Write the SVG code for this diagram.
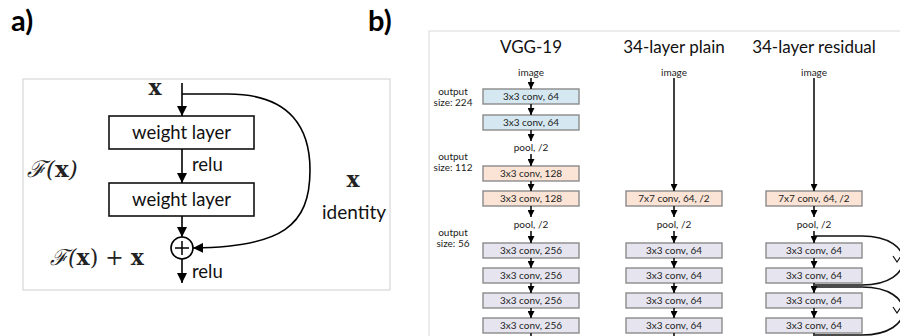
<svg xmlns="http://www.w3.org/2000/svg" width="900" height="336" viewBox="0 0 900 336">
<defs>
<marker id="ah" viewBox="0 0 10 10" refX="10" refY="5" markerWidth="10" markerHeight="10" markerUnits="userSpaceOnUse" orient="auto">
<path d="M0,0 L10,5 L0,10 Z" fill="#000"/>
</marker>
<marker id="ahs" viewBox="0 0 10 10" refX="10" refY="5" markerWidth="7" markerHeight="7" markerUnits="userSpaceOnUse" orient="auto">
<path d="M0,0 L10,5 L0,10 Z" fill="#000"/>
</marker>
</defs>
<style>
.lbl{font-family:Lato,"Open Sans","Liberation Sans",sans-serif;font-weight:bold;font-size:29px;fill:#000}
.sans{font-family:Lato,"Open Sans","Liberation Sans",sans-serif;fill:#111}
.math{font-family:"DejaVu Serif","Liberation Serif",serif;fill:#222}
.wl{fill:#fff;stroke:#111;stroke-width:1.6}
.a{fill:none;stroke:#000;stroke-width:1.6;marker-end:url(#ah)}
.s{fill:none;stroke:#111;stroke-width:1.6;marker-end:url(#ahs)}
.sl{fill:none;stroke:#111;stroke-width:1.6}
.bx{stroke:#8a8a8a;stroke-width:1.4}
.blue{fill:#d5e8f1}
.peach{fill:#fbe4d5}
.lav{fill:#e6e5ef}
.bt{font-family:Lato,"Open Sans","Liberation Sans",sans-serif;font-size:10px;fill:#222;text-anchor:middle}
.tt{font-family:Lato,"Open Sans","Liberation Sans",sans-serif;font-size:17px;fill:#111;text-anchor:middle}
</style>
<rect width="900" height="336" fill="#fff"/>
<text class="lbl" x="11" y="31">a)</text>
<text class="lbl" x="368" y="31">b)</text>

<!-- Panel a -->
<g id="panel-a">
<rect x="23" y="79" width="367" height="211" fill="#fff" stroke="#cfcfcf" stroke-width="1"/>
<text class="math" x="155" y="95" font-size="22" font-weight="bold" text-anchor="middle">x</text>
<text class="math" x="27" y="177" font-size="23" font-style="italic">ℱ(<tspan font-weight="bold" font-style="normal">x</tspan>)</text>
<text class="math" x="50" y="265" font-size="22" font-style="italic">ℱ(<tspan font-weight="bold" font-style="normal">x</tspan><tspan font-style="normal">) + </tspan><tspan font-weight="bold" font-style="normal">x</tspan></text>
<text class="math" x="353" y="187" font-size="22" font-weight="bold" text-anchor="middle">x</text>
<text class="sans" x="354" y="219" font-size="19" text-anchor="middle">identity</text>
</g>
<g id="weight-layer-1">
<rect class="wl" x="109" y="116" width="145" height="33"/>
<text class="sans" x="181.5" y="138.5" font-size="18.5" text-anchor="middle">weight layer</text>
</g>
<g id="weight-layer-2">
<rect class="wl" x="109" y="183" width="145" height="33"/>
<text class="sans" x="181.5" y="205.5" font-size="18.5" text-anchor="middle">weight layer</text>
</g>
<g id="sum">
<circle cx="182" cy="248" r="11" fill="#fff" stroke="#000" stroke-width="1.6"/>
<path d="M175,248 H189 M182,241 V255" stroke="#000" stroke-width="1.5"/>
</g>
<g id="connectors-a">
<path class="a" d="M182,83 V116"/>
<path class="a" d="M182,149 V183"/>
<path class="a" d="M182,216 V237"/>
<path class="a" d="M182,259 V283"/>
<path class="a" d="M182,94 L228,94 C292,94 310,130 310,170 C310,226 282,247 193,248"/>
<text class="sans" x="192" y="171" font-size="18.5">relu</text>
<text class="sans" x="192" y="278" font-size="18.5">relu</text>
</g>

<!-- Panel b -->
<g id="panel-b">
<rect x="429" y="31" width="490" height="330" fill="#fff" stroke="#d9d9d9" stroke-width="1"/>
<text class="tt" x="531" y="53">VGG-19</text>
<text class="tt" x="674" y="53">34-layer plain</text>
<text class="tt" x="814" y="53">34-layer residual</text>
<text class="bt" x="531" y="76">image</text>
<text class="bt" x="674" y="76">image</text>
<text class="bt" x="814" y="76">image</text>
<text class="bt" x="453" y="95">output</text>
<text class="bt" x="453" y="106">size: 224</text>
<text class="bt" x="453" y="160">output</text>
<text class="bt" x="453" y="171">size: 112</text>
<text class="bt" x="453" y="236">output</text>
<text class="bt" x="453" y="247">size: 56</text>
<text class="bt" x="531" y="151">pool, /2</text>
<text class="bt" x="674" y="228">pool, /2</text>
<text class="bt" x="814" y="228">pool, /2</text>
<text class="bt" x="531" y="228">pool, /2</text>
</g>

<g id="vgg-1"><rect class="bx blue" x="483" y="89" width="96" height="15"/><text class="bt" x="531" y="100">3x3 conv, 64</text></g>
<g id="vgg-2"><rect class="bx blue" x="483" y="115" width="96" height="15"/><text class="bt" x="531" y="126">3x3 conv, 64</text></g>
<g id="vgg-3"><rect class="bx peach" x="483" y="166" width="96" height="15"/><text class="bt" x="531" y="177">3x3 conv, 128</text></g>
<g id="vgg-4"><rect class="bx peach" x="483" y="191" width="96" height="15"/><text class="bt" x="531" y="202">3x3 conv, 128</text></g>
<g id="vgg-5"><rect class="bx lav" x="483" y="243" width="96" height="15"/><text class="bt" x="531" y="254">3x3 conv, 256</text></g>
<g id="vgg-6"><rect class="bx lav" x="483" y="268" width="96" height="15"/><text class="bt" x="531" y="279">3x3 conv, 256</text></g>
<g id="vgg-7"><rect class="bx lav" x="483" y="293" width="96" height="15"/><text class="bt" x="531" y="304">3x3 conv, 256</text></g>
<g id="vgg-8"><rect class="bx lav" x="483" y="318" width="96" height="15"/><text class="bt" x="531" y="329">3x3 conv, 256</text></g>

<g id="plain-1"><rect class="bx peach" x="626" y="191" width="96" height="15"/><text class="bt" x="674" y="202">7x7 conv, 64, /2</text></g>
<g id="plain-2"><rect class="bx lav" x="626" y="243" width="96" height="15"/><text class="bt" x="674" y="254">3x3 conv, 64</text></g>
<g id="plain-3"><rect class="bx lav" x="626" y="268" width="96" height="15"/><text class="bt" x="674" y="279">3x3 conv, 64</text></g>
<g id="plain-4"><rect class="bx lav" x="626" y="293" width="96" height="15"/><text class="bt" x="674" y="304">3x3 conv, 64</text></g>
<g id="plain-5"><rect class="bx lav" x="626" y="318" width="96" height="15"/><text class="bt" x="674" y="329">3x3 conv, 64</text></g>

<g id="res-1"><rect class="bx peach" x="766" y="191" width="96" height="15"/><text class="bt" x="814" y="202">7x7 conv, 64, /2</text></g>
<g id="res-2"><rect class="bx lav" x="766" y="243" width="96" height="15"/><text class="bt" x="814" y="254">3x3 conv, 64</text></g>
<g id="res-3"><rect class="bx lav" x="766" y="268" width="96" height="15"/><text class="bt" x="814" y="279">3x3 conv, 64</text></g>
<g id="res-4"><rect class="bx lav" x="766" y="293" width="96" height="15"/><text class="bt" x="814" y="304">3x3 conv, 64</text></g>
<g id="res-5"><rect class="bx lav" x="766" y="318" width="96" height="15"/><text class="bt" x="814" y="329">3x3 conv, 64</text></g>

<g id="connectors-b">
<path class="s" d="M531,78 V89"/>
<path class="s" d="M531,104 V115"/>
<path class="s" d="M531,130 V141"/>
<path class="s" d="M531,154 V166"/>
<path class="s" d="M531,181 V191"/>
<path class="s" d="M531,206 V217"/>
<path class="s" d="M531,231 V243"/>
<path class="s" d="M531,258 V268"/>
<path class="s" d="M531,283 V293"/>
<path class="s" d="M531,308 V318"/>
<path class="sl" d="M531,333 V340"/>

<path class="s" d="M674,78 V191"/>
<path class="s" d="M674,206 V217"/>
<path class="s" d="M674,231 V243"/>
<path class="s" d="M674,258 V268"/>
<path class="s" d="M674,283 V293"/>
<path class="s" d="M674,308 V318"/>
<path class="sl" d="M674,333 V340"/>

<path class="s" d="M814,78 V191"/>
<path class="s" d="M814,206 V217"/>
<path class="s" d="M814,231 V243"/>
<path class="s" d="M814,258 V268"/>
<path class="s" d="M814,283 V293"/>
<path class="s" d="M814,308 V318"/>
<path class="sl" d="M814,333 V340"/>

<path class="sl" d="M814,236 L862,236 C917,236 917,285 862,285 L815,285"/>
<path class="sl" d="M814,287 L862,287 C917,287 917,335 862,335 L815,335"/>
<path d="M893,256 L897,262 L901,256 M893,307 L897,313 L901,307" fill="none" stroke="#111" stroke-width="1.2"/>
</g>
</svg>
